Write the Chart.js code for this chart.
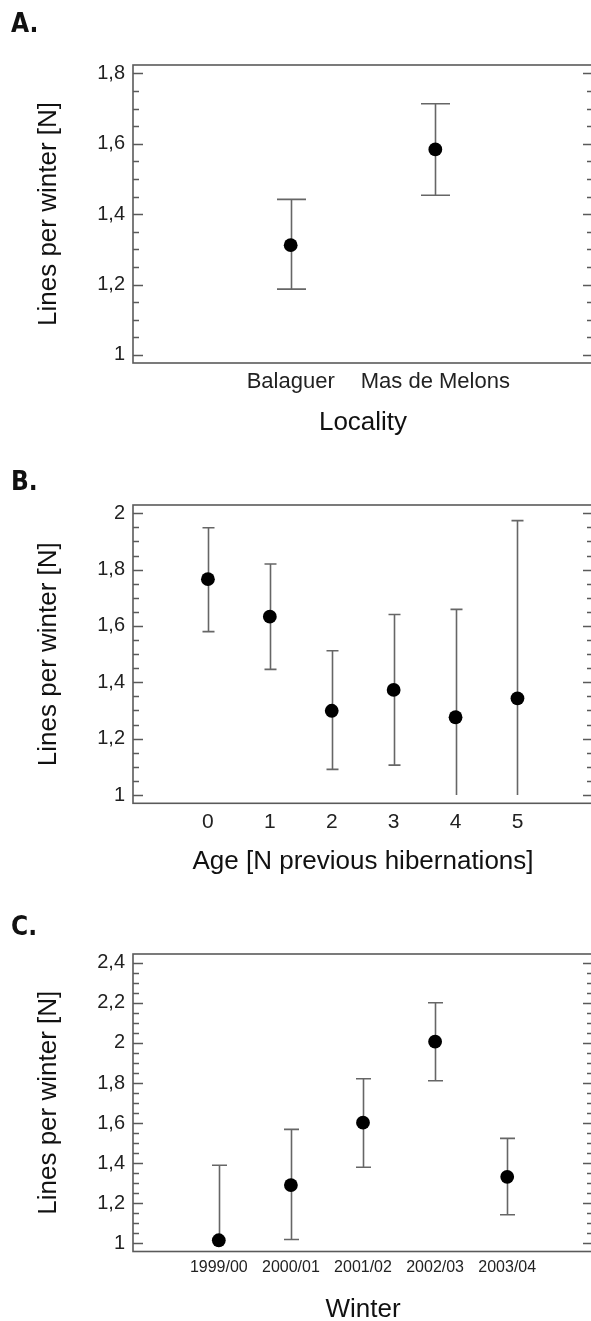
<!DOCTYPE html>
<html>
<head>
<meta charset="utf-8">
<script src="https://cdn.jsdelivr.net/npm/chart.js@4.4.1/dist/chart.umd.min.js"></script>
<style>
  html, body { margin: 0; padding: 0; background: #fff; width: 591px; height: 1321px; overflow: hidden; }
  canvas { position: absolute; left: 0; display: block; }
</style>
</head>
<body>
<canvas id="chartA" width="593" height="440" style="top:0"></canvas>
<canvas id="chartB" width="593" height="440" style="top:440px"></canvas>
<canvas id="chartC" width="593" height="460" style="top:880px"></canvas>
<script>
// A. by locality
const localities = ["Balaguer", "Mas de Melons"];
const localityMean = [1.312, 1.584];
const localityLow = [1.187, 1.454];
const localityHigh = [1.442, 1.714];
const localityTicks = [1, 1.2, 1.4, 1.6, 1.8];

// B. by age
const ages = ["0", "1", "2", "3", "4", "5"];
const ageMean = [1.766, 1.633, 1.299, 1.373, 1.276, 1.343];
const ageLow = [1.580, 1.446, 1.091, 1.106, 0.893, 0.712];
const ageHigh = [1.949, 1.820, 1.512, 1.641, 1.659, 1.974];
const ageTicks = [1, 1.2, 1.4, 1.6, 1.8, 2];

// C. by winter
const winters = ["1999/00", "2000/01", "2001/02", "2002/03", "2003/04"];
const winterMean = [1.016, 1.291, 1.602, 2.006, 1.332];
const winterLow = [0.642, 1.020, 1.380, 1.811, 1.143];
const winterHigh = [1.390, 1.569, 1.821, 2.200, 1.524];
const winterTicks = [1, 1.2, 1.4, 1.6, 1.8, 2, 2.2, 2.4];

const SANS = "'Liberation Sans', Arial, sans-serif";
const MINOR = 0.05;

// box around the plot, inward ticks on both sides, and the CI whiskers
function errorBars(low, high, capWidth) {
  return {
    id: "errorBars",
    beforeDatasetsDraw(chart) {
      const { ctx, chartArea: a, scales: { x, y } } = chart;
      ctx.save();
      ctx.strokeStyle = "#5a5a5a";
      ctx.lineWidth = 1.6;
      ctx.strokeRect(a.left, a.top, a.right - a.left, a.bottom - a.top);

      const majors = y.ticks.map(t => t.value);
      ctx.beginPath();
      for (let k = Math.ceil(y.min / MINOR - 1e-6); k * MINOR <= y.max + 1e-9; k++) {
        const v = k * MINOR;
        const len = majors.some(m => Math.abs(m - v) < 1e-6) ? 10 : 6;
        const py = Math.round(y.getPixelForValue(v)) + 0.5;
        ctx.moveTo(a.left, py);
        ctx.lineTo(a.left + len, py);
        ctx.moveTo(a.right, py);
        ctx.lineTo(a.right - len, py);
      }
      ctx.stroke();

      const floor = majors[0];
      ctx.strokeStyle = "#666";
      ctx.beginPath();
      low.forEach((lo, i) => {
        const px = Math.round(x.getPixelForValue(i)) + 0.5;
        const top = y.getPixelForValue(high[i]);
        const bot = y.getPixelForValue(Math.max(lo, floor));
        ctx.moveTo(px, top);
        ctx.lineTo(px, bot);
        ctx.moveTo(px - capWidth / 2, top);
        ctx.lineTo(px + capWidth / 2, top);
        if (lo >= floor) {
          ctx.moveTo(px - capWidth / 2, bot);
          ctx.lineTo(px + capWidth / 2, bot);
        }
      });
      ctx.stroke();
      ctx.restore();
    }
  };
}

function makeChart(id, o) {
  return new Chart(document.getElementById(id), {
    type: "scatter",
    data: {
      datasets: [{
        data: o.mean.map((m, i) => ({ x: i, y: m })),
        pointRadius: 6.9,
        pointHoverRadius: 6.9,
        backgroundColor: "#000",
        borderWidth: 0
      }]
    },
    options: {
      responsive: false,
      animation: false,
      events: [],
      layout: { autoPadding: false, padding: { left: 11, top: 0, right: 0, bottom: 0 } },
      plugins: {
        legend: { display: false },
        tooltip: { enabled: false },
        title: {
          display: true,
          text: o.letter,
          align: "start",
          color: "#111",
          font: { family: "'DejaVu Sans Condensed', 'DejaVu Sans', sans-serif", weight: "bold", size: 26 },
          padding: o.letterPad
        }
      },
      scales: {
        x: {
          type: "linear",
          min: o.xMin,
          max: o.xMax,
          grid: { display: false, drawTicks: false },
          border: { display: false },
          afterBuildTicks: s => { s.ticks = o.labels.map((_, i) => ({ value: i })); },
          afterFit: s => { s.height = o.xHeight; },
          ticks: {
            autoSkip: false,
            maxRotation: 0,
            padding: o.xTickPad,
            color: "#222",
            font: { family: SANS, size: o.xTickSize },
            callback: v => o.labels[v]
          },
          title: {
            display: true,
            text: o.xTitle,
            color: "#111",
            font: { family: SANS, size: 26 },
            padding: { bottom: o.xTitlePad }
          }
        },
        y: {
          min: o.yMin,
          max: o.yMax,
          grid: { display: false, drawTicks: false },
          border: { display: false },
          afterBuildTicks: s => { s.ticks = o.yTicks.map(v => ({ value: v })); },
          afterFit: s => { s.width = 122; },
          ticks: {
            padding: 8,
            color: "#222",
            font: { family: SANS, size: 20 },
            callback: v => String(v).replace(".", ",")
          },
          title: {
            display: true,
            text: "Lines per winter [N]",
            color: "#111",
            font: { family: SANS, size: 26 },
            padding: { top: 22 }
          }
        }
      }
    },
    plugins: [errorBars(o.low, o.high, o.cap)]
  });
}

makeChart("chartA", {
  letter: "A.", letterPad: { top: 9.5, bottom: 24.3 },
  labels: localities, mean: localityMean, low: localityLow, high: localityHigh, cap: 29,
  xMin: -1.09, xMax: 2.09, xHeight: 77, xTickPad: 5.5, xTickSize: 22, xTitle: "Locality", xTitlePad: 1.4,
  yMin: 0.977, yMax: 1.824, yTicks: localityTicks
});

makeChart("chartB", {
  letter: "B.", letterPad: { top: 28, bottom: 5.8 },
  labels: ages, mean: ageMean, low: ageLow, high: ageHigh, cap: 12,
  xMin: -1.21, xMax: 6.22, xHeight: 76.7, xTickPad: 6.5, xTickSize: 21, xTitle: "Age [N previous hibernations]", xTitlePad: 2.4,
  yMin: 0.9705, yMax: 2.0295, yTicks: ageTicks
});

makeChart("chartC", {
  letter: "C.", letterPad: { top: 33, bottom: 9.8 },
  labels: winters, mean: winterMean, low: winterLow, high: winterHigh, cap: 15,
  xMin: -1.19, xMax: 5.19, xHeight: 88.5, xTickPad: 6, xTickSize: 16, xTitle: "Winter", xTitlePad: 14.4,
  yMin: 0.96, yMax: 2.443, yTicks: winterTicks
});
</script>
</body>
</html>
